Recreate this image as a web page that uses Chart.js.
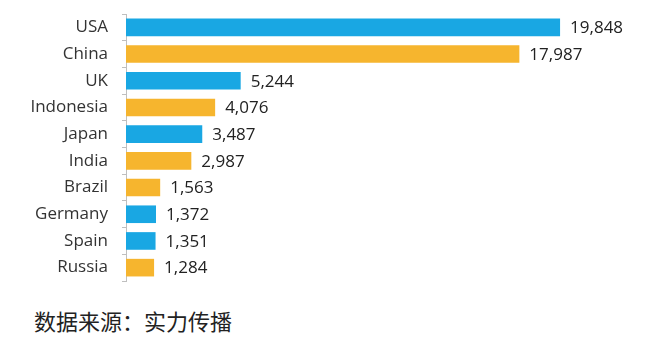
<!DOCTYPE html>
<html>
<head>
<meta charset="utf-8">
<script src="https://cdn.jsdelivr.net/npm/chart.js@4.4.0/dist/chart.umd.min.js"></script>
<style>
  body { margin: 0; background: #fff; }
  #wrap { position: relative; width: 650px; height: 345px; }
  #box { position: absolute; left: 0; top: 0; width: 650px; height: 290px; }
  #source {
    position: absolute; left: 34px; top: 304px;
    font-family: "Noto Sans CJK SC", sans-serif; font-size: 22px; color: #222;
  }
</style>
</head>
<body>
<div id="wrap">
  <div id="box"><canvas id="myChart"></canvas></div>
  <div id="source">数据来源：实力传播</div>
</div>
<script>
const countries = ['USA', 'China', 'UK', 'Indonesia', 'Japan', 'India', 'Brazil', 'Germany', 'Spain', 'Russia'];
const values = [19848, 17987, 5244, 4076, 3487, 2987, 1563, 1372, 1351, 1284];
const barColors = ['#19a7e3', '#f6b52e', '#19a7e3', '#f6b52e', '#19a7e3', '#f6b52e', '#f6b52e', '#19a7e3', '#19a7e3', '#f6b52e'];

// numbers to the right of each bar
const valueLabels = {
    id: 'valueLabels',
    afterDatasetsDraw: (chart) => {
        const ctx = chart.ctx;
        const meta = chart.getDatasetMeta(0);
        ctx.save();
        ctx.font = '17px "Open Sans"';
        ctx.fillStyle = '#222';
        ctx.textBaseline = 'middle';
        meta.data.forEach(function (bar, i) {
            ctx.fillText(values[i].toLocaleString('en-US'), bar.x + 10, bar.y + 1);
        });
        ctx.restore();
    }
};

var ctx = document.getElementById('myChart').getContext('2d');
var myChart = new Chart(ctx, {
    type: 'bar',
    data: {
        labels: countries,
        datasets: [{
            data: values,
            backgroundColor: barColors,
            barPercentage: 0.66,
            categoryPercentage: 1
        }]
    },
    options: {
        indexAxis: 'y',
        responsive: true,
        maintainAspectRatio: false,
        animation: false,
        layout: { padding: { top: 14, bottom: 9, right: 21, left: 0 } },
        scales: {
            x: {
                display: false,
                min: 0,
                max: 23000
            },
            y: {
                afterFit: (scale) => {
                    scale.width = 126;
                    scale.paddingTop = 0;
                    scale.paddingBottom = 0;
                },
                border: { display: true, color: '#bfbfbf', width: 1 },
                grid: {
                    drawOnChartArea: false,
                    drawTicks: true,
                    tickLength: 4,
                    color: '#bfbfbf',
                    offset: true
                },
                ticks: {
                    padding: 14,
                    color: '#333',
                    font: { family: 'Open Sans', size: 17 }
                }
            }
        },
        plugins: {
            legend: { display: false },
            tooltip: { enabled: false }
        }
    },
    plugins: [valueLabels]
});
</script>
</body>
</html>
